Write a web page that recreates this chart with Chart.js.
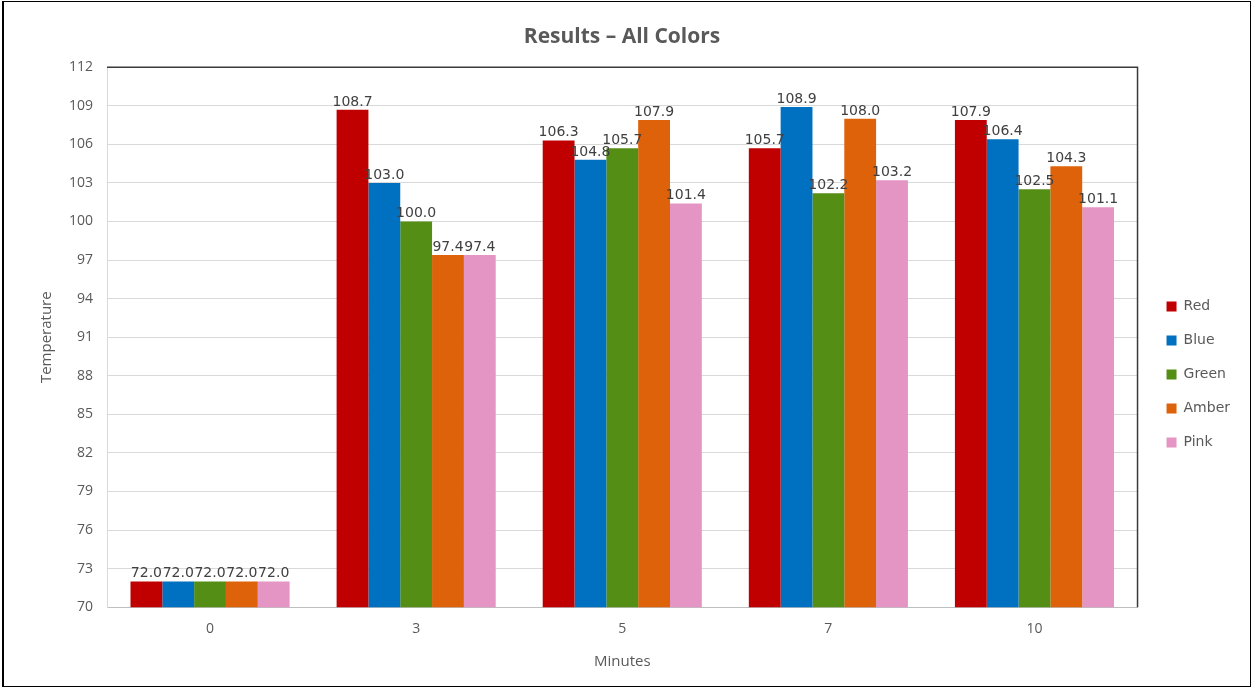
<!DOCTYPE html>
<html>
<head>
<meta charset="utf-8">
<script src="https://cdn.jsdelivr.net/npm/chart.js@4.4.1/dist/chart.umd.min.js"></script>
<style>
  html, body { margin:0; padding:0; background:#fff; }
  #wrap { position:absolute; left:2px; top:1px; width:1249px; height:686px; box-sizing:border-box;
          border:1px solid #000; border-left-width:2px; background:#fff; }
</style>
</head>
<body>
<div id="wrap"><canvas id="chart"></canvas></div>
<script>
// categories (minutes)
const minutes = ['0', '3', '5', '7', '10'];

// temperatures per colour
const red   = [72.0, 108.7, 106.3, 105.7, 107.9];
const blue  = [72.0, 103.0, 104.8, 108.9, 106.4];
const green = [72.0, 100.0, 105.7, 102.2, 102.5];
const amber = [72.0,  97.4, 107.9, 108.0, 104.3];
const pink  = [72.0,  97.4, 101.4, 103.2, 101.1];

const seriesNames  = ['Red', 'Blue', 'Green', 'Amber', 'Pink'];
const seriesColors = ['#C00000', '#0070C0', '#548E14', '#DE6209', '#E495C4'];
const seriesData   = [red, blue, green, amber, pink];

const yMin = 70, yMax = 112, yStep = 3;

const textGrey = '#595959';

// value labels on top of each bar
const barLabels = {
  id: 'barLabels',
  afterDatasetsDraw(chart) {
    const ctx = chart.ctx;
    ctx.save();
    ctx.font = '14px "DejaVu Sans"';
    ctx.fillStyle = '#404040';
    ctx.textAlign = 'center';
    ctx.textBaseline = 'alphabetic';
    chart.data.datasets.forEach((ds, i) => {
      chart.getDatasetMeta(i).data.forEach((bar, j) => {
        ctx.fillText(ds.data[j].toFixed(1), bar.x, bar.y - 4);
      });
    });
    ctx.restore();
  }
};

// dark top / right edge of the plot area
const plotFrame = {
  id: 'plotFrame',
  afterDraw(chart) {
    const a = chart.chartArea, ctx = chart.ctx;
    ctx.save();
    ctx.strokeStyle = '#3a3a3a';
    ctx.lineWidth = 1.5;
    ctx.beginPath();
    ctx.moveTo(a.left, a.top);
    ctx.lineTo(a.right, a.top);
    ctx.lineTo(a.right, a.bottom);
    ctx.stroke();
    ctx.restore();
  }
};

new Chart(document.getElementById('chart'), {
  type: 'bar',
  data: {
    labels: minutes,
    datasets: seriesNames.map((name, i) => ({
      label: name,
      data: seriesData[i],
      backgroundColor: seriesColors[i],
      borderWidth: 0,
      categoryPercentage: 0.772,
      barPercentage: 1.0
    }))
  },
  options: {
    responsive: true,
    maintainAspectRatio: false,
    animation: false,
    layout: { padding: { left: 0, right: 10, top: 0, bottom: 5 } },
    plugins: {
      title: {
        display: true,
        text: 'Results – All Colors',
        color: textGrey,
        font: { family: '"Open Sans"', size: 21, weight: 'bold' },
        padding: { top: 22, bottom: 18 }
      },
      legend: {
        position: 'right',
        title: { display: true, text: '', font: { size: 10 }, padding: { top: 54, bottom: 0 } },
        labels: {
          boxWidth: 10,
          boxHeight: 10,
          padding: 20,
          color: textGrey,
          font: { family: '"DejaVu Sans"', size: 14 }
        }
      },
      tooltip: { enabled: false }
    },
    scales: {
      x: {
        grid: { display: false },
        border: { color: '#bfbfbf' },
        ticks: { color: textGrey, padding: 5, font: { family: '"Open Sans"', size: 14 } },
        title: {
          display: true, text: 'Minutes', color: textGrey,
          font: { family: '"Open Sans"', size: 15 },
          padding: { top: 11, bottom: 10 }
        }
      },
      y: {
        min: yMin, max: yMax,
        grid: { color: '#d9d9d9', drawTicks: false },
        border: { color: '#d9d9d9' },
        ticks: { stepSize: yStep, color: textGrey, padding: 14, font: { family: '"Open Sans"', size: 14 } },
        title: {
          display: true, text: 'Temperature', color: textGrey,
          font: { family: '"Open Sans"', size: 15 },
          padding: { top: 34, bottom: 0 }
        },
        afterFit(scale) { scale.width = 103; }
      },
      y2: {
        position: 'right',
        grid: { display: false },
        border: { display: false },
        ticks: { display: false },
        afterFit(scale) { scale.width = 9; }
      }
    }
  },
  plugins: [barLabels, plotFrame]
});
</script>
</body>
</html>
